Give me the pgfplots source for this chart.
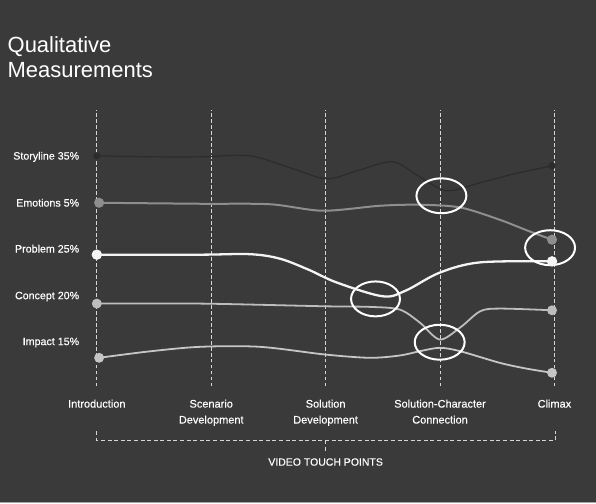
\documentclass[border=0pt]{standalone}
\usepackage{pgfplots}
\pgfplotsset{compat=1.18}
\usepackage{fontspec}
\setmainfont{Liberation Sans}
\newfontfamily\labfont[BoldFont={Liberation Sans}, BoldFeatures={FakeBold=0.35}]{Liberation Sans}
\definecolor{bgc}{HTML}{3A3A3A}
\definecolor{dashc}{HTML}{D6D6D6}
\definecolor{storyc}{HTML}{2C2C2C}
\definecolor{emoc}{HTML}{8E8E8E}
\definecolor{probc}{HTML}{F4F4F4}
\definecolor{concc}{HTML}{BDBDBD}
\definecolor{impc}{HTML}{C6C6C6}
\begin{document}
\begin{tikzpicture}
\begin{axis}[
  width=596pt, height=504pt, scale only axis,
  xmin=-0.842, xmax=4.359, ymin=0, ymax=504,
  axis background/.style={fill=bgc},
  axis line style={draw=none},
  major tick length=0pt,
  clip=false,
  xtick={0,1,2,3,4},
  xticklabels={Introduction,{Scenario\\Development},{Solution\\Development},{Solution-Character\\Connection},Climax},
  xticklabel style={anchor=north, inner sep=0pt, yshift=104pt, align=center,
    font=\labfont\bfseries\fontsize{11}{16}\selectfont, text=white},
  ytick={161,207,255,301,347},
  yticklabels={Impact 15\%,Concept 20\%,Problem 25\%,Emotions 5\%,Storyline 35\%},
  yticklabel style={anchor=east, inner sep=0pt, xshift=79pt,
    font=\labfont\bfseries\fontsize{10.7}{12}\selectfont, text=white},
]
% vertical dashed guide lines
\pgfplotsinvokeforeach{0,1,2,3,4}{
  \draw[dashc, line width=1pt, dash pattern=on 3.5pt off 2.5pt] (axis cs:#1,117) -- (axis cs:#1,394);
}
% Storyline
\addplot[storyc, line width=1.2pt, smooth, tension=0.5, mark=*, mark size=3pt,
  mark options={fill=storyc, draw=storyc}, mark indices={1,13}] coordinates {
  (0,348) (0.5,347) (0.9,347) (1.339,348) (1.69,336) (2.011,325) (2.30,334)
  (2.587,342) (2.823,327) (3.058,313) (3.35,321) (3.65,330) (3.979,338)};
% Emotions
\addplot[emoc, line width=2pt, smooth, tension=0.5, mark=*, mark size=4pt,
  mark options={fill=emoc, draw=emoc}, mark indices={1,10}] coordinates {
  (0.02,301) (0.903,300) (1.514,299.5) (1.976,293) (2.474,298) (2.823,299)
  (3.176,296.3) (3.521,284) (3.783,272.3) (3.979,264)};
% Problem
\addplot[probc, line width=2.3pt, smooth, tension=0.55, mark=*, mark size=4pt,
  mark options={fill=probc, draw=probc}, mark indices={1,11}] coordinates {
  (0,249) (0.903,249) (1.339,249.5) (1.6,245) (1.85,234) (2.1,221)
  (2.5,207.3) (2.7,213) (2.997,231) (3.351,241.3) (3.979,242.3)};
% Concept
\addplot[concc, line width=1.8pt, smooth, tension=0.5, mark=*, mark size=4pt,
  mark options={fill=concc, draw=concc}, mark indices={1,11}] coordinates {
  (0,200) (0.903,200) (1.994,197.3) (2.386,196.7) (2.648,194) (2.823,181)
  (2.997,164) (3.176,176) (3.351,192.3) (3.521,195) (3.979,193.3)};
% Impact
\addplot[impc, line width=1.8pt, smooth, tension=0.5, mark=*, mark size=4pt,
  mark options={fill=impc, draw=impc}, mark indices={1,13}] coordinates {
  (0.02,145.7) (0.45,152) (0.903,156.7) (1.427,156.7) (1.994,149) (2.386,145.7)
  (2.648,148) (2.823,152.3) (2.997,155.7) (3.176,152.3) (3.521,140.7) (3.75,135) (3.979,130.7)};
% highlight ellipses
\draw[white, line width=2pt] (axis cs:3.012,308) ellipse [x radius=25pt, y radius=17.5pt];
\draw[white, line width=2pt] (axis cs:3.962,256) ellipse [x radius=25pt, y radius=17.5pt];
\draw[white, line width=2pt] (axis cs:2.436,204.7) ellipse [x radius=24.5pt, y radius=17.5pt];
\draw[white, line width=2pt] (axis cs:2.997,161.3) ellipse [x radius=25pt, y radius=17.5pt];
% bracket
\draw[dashc, line width=1pt, dash pattern=on 4pt off 2.6pt]
  (axis cs:0,72) -- (axis cs:0,63) -- (axis cs:4.01,63) -- (axis cs:4.01,72);
\draw[dashc, line width=1pt, dash pattern=on 4pt off 2.6pt] (axis cs:2,63) -- (axis cs:2,52);
\node[text=white, font=\labfont\bfseries\fontsize{10.5}{12}\selectfont] at (axis cs:2,41.3) {VIDEO TOUCH POINTS};
% title
\node[text=white, anchor=base west, inner sep=0pt, font=\fontsize{22}{26}\selectfont] at (axis cs:-0.781,452) {Qualitative};
\node[text=white, anchor=base west, inner sep=0pt, font=\fontsize{22}{26}\selectfont] at (axis cs:-0.781,426) {Measurements};
% bottom frame line
\draw[gray!70, line width=1pt] (axis cs:-0.842,0.5) -- (axis cs:4.359,0.5);
\end{axis}
\end{tikzpicture}
\end{document}
